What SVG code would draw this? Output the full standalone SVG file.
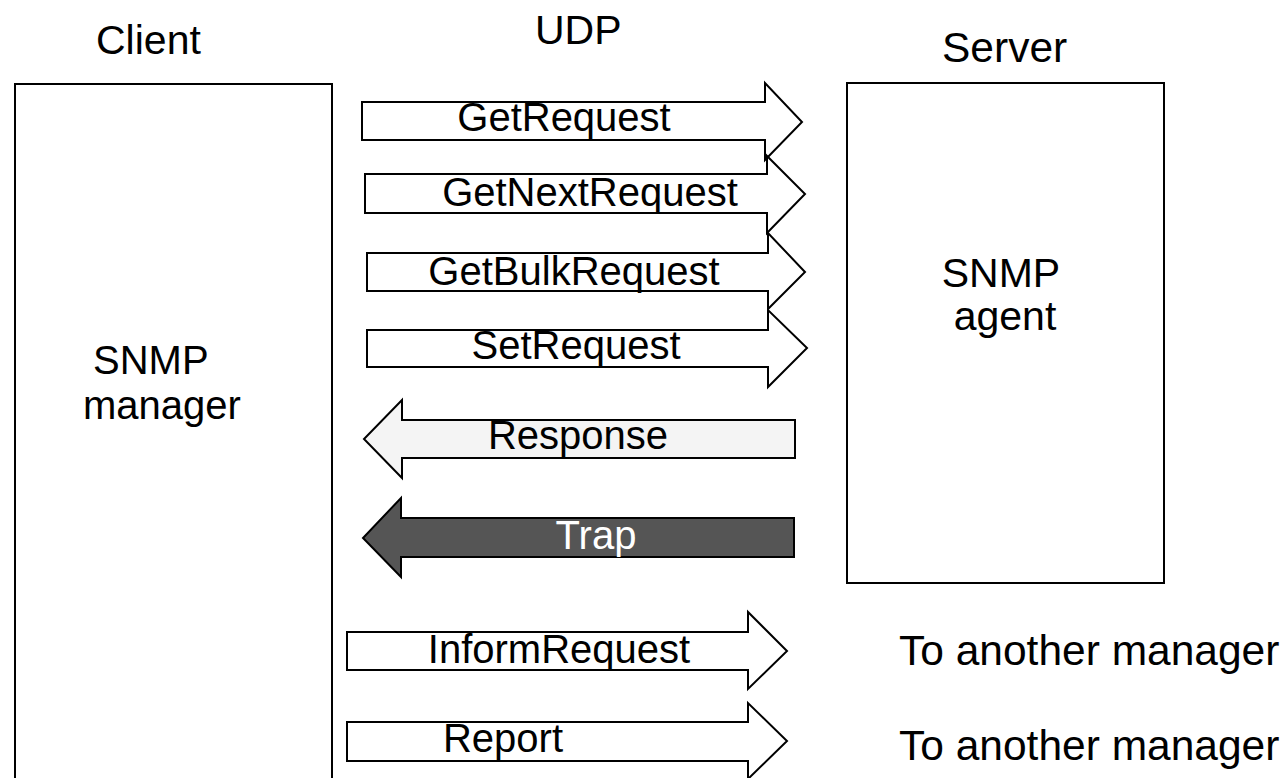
<svg xmlns="http://www.w3.org/2000/svg" width="1283" height="778" viewBox="0 0 1283 778">
  <style>
    text { font-family: "Liberation Sans", Arial, Helvetica, sans-serif; fill: #000; }
    .title { font-size: 41px; }
    .name { font-size: 40px; }
    .big { font-size: 42.5px; }
    .lbl { font-size: 40px; text-anchor: middle; }
    .box { fill: #fff; stroke: #000; stroke-width: 2; }
    .msg { fill: #fff; stroke: #000; stroke-width: 2; stroke-linejoin: miter; }
    .resp { fill: #f4f4f4; }
    .trap { fill: #555; }
    .inv { fill: #fff; }
  </style>

  <rect width="1283" height="778" fill="#fff"/>

  <!-- column headings -->
  <text class="title" x="96" y="54">Client</text>
  <text class="title" x="535" y="44">UDP</text>
  <text class="big" x="942" y="62">Server</text>

  <!-- manager on the client side -->
  <g id="client">
    <rect class="box" x="15" y="84" width="317" height="720"/>
    <text class="name" x="93" y="374">SNMP</text>
    <text class="name" x="83" y="419">manager</text>
  </g>

  <!-- agent on the server side -->
  <g id="server">
    <rect class="box" x="847" y="83" width="317" height="500"/>
    <text class="title" x="1001" y="287" text-anchor="middle">SNMP</text>
    <text class="title" x="1005" y="330" text-anchor="middle">agent</text>
  </g>

  <!-- PDUs exchanged over UDP -->
  <g id="connectors">
    <g id="get-request">
      <polygon class="msg" points="362,102 765,102 765,83 802,122 765,160 765,140 362,140"/>
      <text class="lbl" x="564" y="131">GetRequest</text>
    </g>
    <g id="get-next-request">
      <polygon class="msg" points="365,174 767,174 767,156 805,194 767,233 767,213 365,213"/>
      <text class="lbl" x="590" y="206">GetNextRequest</text>
    </g>
    <g id="get-bulk-request">
      <polygon class="msg" points="367,253 768,253 768,233 805,272 768,309 768,291 367,291"/>
      <text class="lbl" x="574" y="285">GetBulkRequest</text>
    </g>
    <g id="set-request">
      <polygon class="msg" points="367,330 768,330 768,310 807,348 768,387 768,367 367,367"/>
      <text class="lbl" x="576" y="359">SetRequest</text>
    </g>
    <g id="response">
      <polygon class="msg resp" points="795,420 402,420 402,400 364,439 402,478 402,458 795,458"/>
      <text class="lbl" x="578" y="449">Response</text>
    </g>
    <g id="trap">
      <polygon class="msg trap" points="794,518 401,518 401,498 363,538 401,577 401,557 794,557"/>
      <text class="lbl inv" x="596" y="549">Trap</text>
    </g>
    <g id="inform-request">
      <polygon class="msg" points="347,632 748,632 748,612 787,651 748,689 748,670 347,670"/>
      <text class="lbl" x="559" y="663">InformRequest</text>
    </g>
    <g id="report">
      <polygon class="msg" points="347,722 748,722 748,703 787,741 748,779 748,761 347,761"/>
      <text class="lbl" x="503" y="752">Report</text>
    </g>
  </g>

  <!-- destinations of the manager-to-manager PDUs -->
  <text class="big" x="899" y="665">To another manager</text>
  <text class="big" x="899" y="760">To another manager</text>
</svg>
